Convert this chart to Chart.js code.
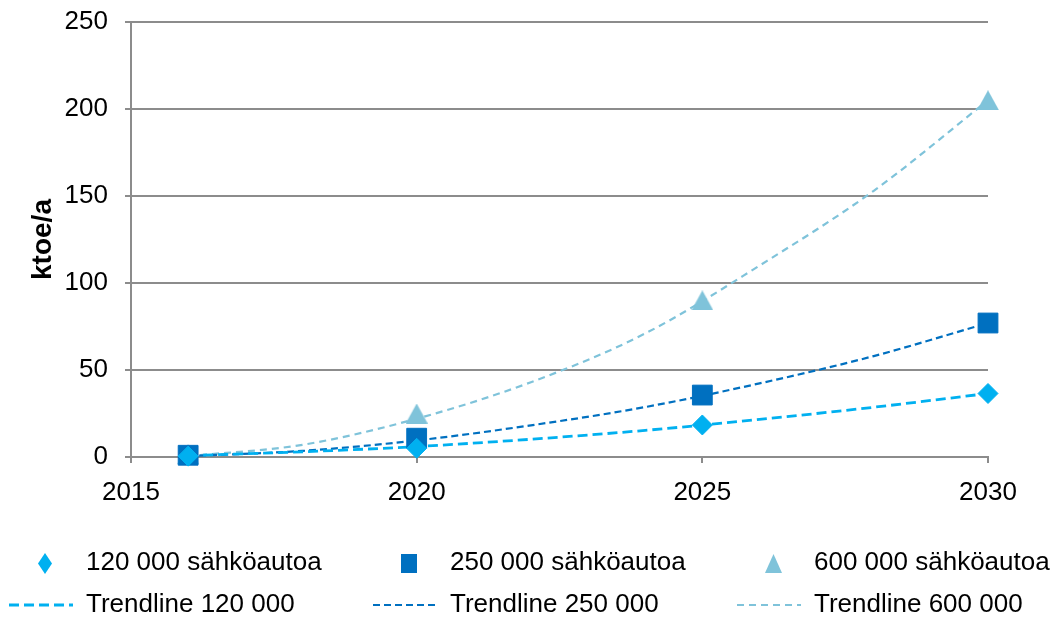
<!DOCTYPE html>
<html>
<head>
<meta charset="utf-8">
<script src="https://cdn.jsdelivr.net/npm/chart.js@4.4.0/dist/chart.umd.min.js"></script>
<style>
  html, body { margin: 0; padding: 0; background: #ffffff; }
  #wrap { width: 1055px; height: 619px; position: relative; }
</style>
</head>
<body>
<div id="wrap"><canvas id="c" width="1055" height="619"></canvas></div>
<script>
// Annual energy use (ktoe/a) of the electric car fleet, three fleet sizes
const years = [2016, 2020, 2025, 2030];
const ev120 = [0.5, 5, 18.4, 36.5];
const ev250 = [1, 10.8, 35.6, 77];
const ev600 = [1.5, 25, 90, 205];

// Trendline curves sampled along the years
const trendYears = [2016, 2018, 2020, 2022, 2024, 2026, 2028, 2030];
const trend120 = [0.8, 3.0, 6.0, 10.2, 15.3, 21.6, 28.6, 36.5];
const trend250 = [0.5, 3.5, 9.5, 18.2, 28.7, 42.3, 58, 77];
const trend600 = [0.5, 7, 22, 43, 71, 110, 153, 205];

const seriesNames = ['120 000 sähköautoa', '250 000 sähköautoa', '600 000 sähköautoa'];
const trendNames = ['Trendline 120 000', 'Trendline 250 000', 'Trendline 600 000'];
const xTicks = [2015, 2020, 2025, 2030];
const yTicks = [0, 50, 100, 150, 200, 250];
const yTitle = 'ktoe/a';

const FONT = '"Liberation Sans", Arial, sans-serif';
const GRID = '#8c8c8c';
const C120 = '#00b0f0';
const C250 = '#0070c0';
const C600 = '#7fc3da';

const pts = (xs, ys) => xs.map((x, i) => ({ x: x, y: ys[i] }));

// Small canvas markers (bounding box centred on the point)
function marker(shape, w, h, color) {
  const cv = document.createElement('canvas');
  cv.width = w; cv.height = h;
  const g = cv.getContext('2d');
  g.fillStyle = color;
  g.beginPath();
  if (shape === 'triangle') {
    g.moveTo(w / 2, 0); g.lineTo(w, h); g.lineTo(0, h);
  } else if (shape === 'diamond') {
    g.moveTo(w / 2, 0); g.lineTo(w, h / 2); g.lineTo(w / 2, h); g.lineTo(0, h / 2);
  } else {
    g.rect(0, 0, w, h);
  }
  g.closePath();
  g.fill();
  return cv;
}

const pointSets = [
  { label: seriesNames[0], data: pts(years, ev120), color: C120, style: 'rectRot', r: 10,
    legendStyle: marker('diamond', 14, 21, C120) },
  { label: seriesNames[1], data: pts(years, ev250), color: C250, style: 'rect', r: 14,
    legendStyle: marker('square', 16, 19, C250) },
  { label: seriesNames[2], data: pts(years, ev600), color: C600, style: marker('triangle', 22, 20, C600), r: 11,
    legendStyle: marker('triangle', 17, 19, C600) }
];
const trendSets = [
  { label: trendNames[0], data: pts(trendYears, trend120), color: C120, width: 2.8, dash: [10, 5] },
  { label: trendNames[1], data: pts(trendYears, trend250), color: C250, width: 2.2, dash: [7, 4] },
  { label: trendNames[2], data: pts(trendYears, trend600), color: C600, width: 2.2, dash: [7, 5] }
];

const datasets = [];
trendSets.forEach(t => datasets.push({
  label: t.label, data: t.data, showLine: true, borderColor: t.color,
  borderWidth: t.width, borderDash: t.dash, pointRadius: 0, pointHoverRadius: 0,
  cubicInterpolationMode: 'monotone', fill: false, order: 2, clip: false
}));
pointSets.forEach(p => datasets.push({
  label: p.label, data: p.data, showLine: false, pointStyle: p.style,
  pointRadius: p.r, pointHoverRadius: p.r, backgroundColor: p.color,
  borderColor: p.color, borderWidth: 1, order: 1, clip: false
}));

// Two-row legend: markers on the first row, trendlines on the second
const legendRows = {
  id: 'legendRows',
  afterDraw(chart) {
    const ctx = chart.ctx;
    const cols = [9, 373, 737];
    const row1 = 563, row2 = 605;
    ctx.save();
    ctx.font = '26px ' + FONT;
    ctx.textBaseline = 'middle';
    ctx.textAlign = 'left';
    for (let i = 0; i < 3; i++) {
      const x0 = cols[i];
      const p = pointSets[i];
      const im = p.legendStyle;
      ctx.drawImage(im, Math.round(x0 + 36 - im.width / 2), Math.round(row1 - im.height / 2));
      ctx.fillStyle = '#000';
      ctx.fillText(p.label, x0 + 77, row1);

      const t = trendSets[i];
      ctx.beginPath();
      ctx.setLineDash(t.dash);
      ctx.lineWidth = t.width;
      ctx.strokeStyle = t.color;
      ctx.moveTo(x0, row2);
      ctx.lineTo(x0 + 64, row2);
      ctx.stroke();
      ctx.setLineDash([]);
      ctx.fillStyle = '#000';
      ctx.fillText(t.label, x0 + 77, row2);
    }
    ctx.restore();
  }
};

new Chart(document.getElementById('c'), {
  type: 'scatter',
  data: { datasets: datasets },
  plugins: [legendRows],
  options: {
    responsive: false,
    animation: false,
    events: [],
    layout: { padding: { top: 22, right: 67, left: 0, bottom: 0 } },
    plugins: { legend: { display: false }, tooltip: { enabled: false } },
    scales: {
      x: {
        type: 'linear', min: 2015, max: 2030,
        afterBuildTicks: s => { s.ticks = xTicks.map(v => ({ value: v })); },
        afterFit: s => { s.height = 162; s.paddingLeft = 0; s.paddingRight = 0; },
        grid: { display: true, drawOnChartArea: false, drawTicks: true, tickLength: 6, color: GRID, lineWidth: 2 },
        border: { display: true, color: GRID, width: 2 },
        ticks: { color: '#000', font: { family: FONT, size: 26 }, padding: 14, maxRotation: 0, autoSkip: false,
                 callback: v => String(v) }
      },
      y: {
        type: 'linear', min: 0, max: 250,
        afterBuildTicks: s => { s.ticks = yTicks.map(v => ({ value: v })); },
        afterFit: s => { s.width = 131; s.paddingTop = 0; s.paddingBottom = 0; },
        grid: { display: true, drawOnChartArea: true, drawTicks: true, tickLength: 6, color: GRID, lineWidth: 2 },
        border: { display: true, color: GRID, width: 2 },
        ticks: { color: '#000', font: { family: FONT, size: 26 }, padding: 17, callback: v => String(v) },
        title: { display: true, text: yTitle, color: '#000', font: { family: FONT, size: 28, weight: 'bold' },
                 padding: { top: 26, bottom: 0 } }
      }
    }
  }
});
</script>
</body>
</html>
